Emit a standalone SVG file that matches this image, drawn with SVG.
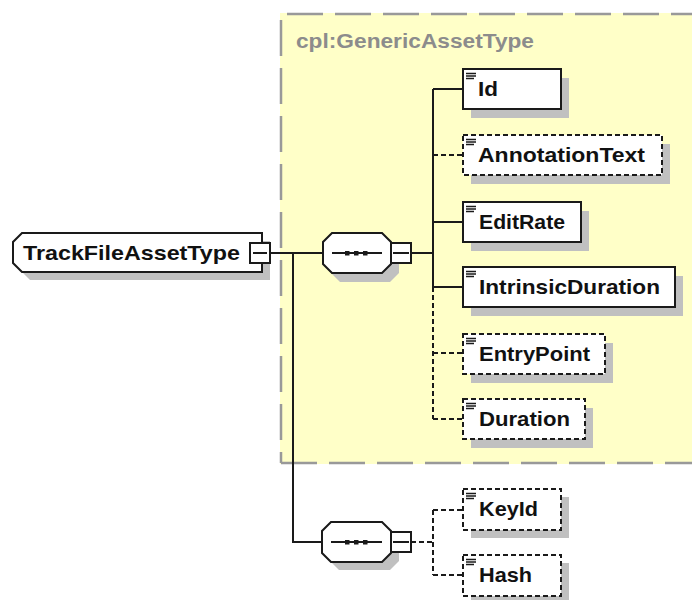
<svg xmlns="http://www.w3.org/2000/svg" width="692" height="600" viewBox="0 0 692 600">
<defs>
<style>
.t{font-family:"Liberation Sans",Arial,sans-serif;font-weight:bold;font-size:21px;fill:#111}
.title{font-family:"Liberation Sans",Arial,sans-serif;font-weight:bold;font-size:20px;fill:#8c8c8c}
.box{fill:#fff;stroke:#1a1a1a;stroke-width:2}
.opt{fill:#fff;stroke:#1a1a1a;stroke-width:2;stroke-dasharray:5 3}
.sh{fill:#c0c0c0}
.ln{stroke:#1a1a1a;stroke-width:2;fill:none}
.dl{stroke:#1a1a1a;stroke-width:2;fill:none;stroke-dasharray:5 3}
.ic{stroke:#1a1a1a;stroke-width:1.3}
.gb{stroke:#999;stroke-width:2.5;stroke-dasharray:36 12;fill:none}
</style>
</defs>
<rect width="692" height="600" fill="#fff"/>
<g id="group-GenericAssetType">
<rect x="280" y="13" width="420" height="451" fill="#ffffc8"/>
<line class="gb" x1="287" y1="14" x2="692" y2="14"/>
<line class="gb" x1="281" y1="20" x2="281" y2="463"/>
<line class="gb" x1="281" y1="463" x2="692" y2="463"/>
<text class="title" x="296" y="48" textLength="238" lengthAdjust="spacingAndGlyphs">cpl:GenericAssetType</text>
</g>
<g id="connectors">
<line class="ln" x1="270" y1="253" x2="323" y2="253"/>
<polyline class="ln" points="293,253 293,542 322,542"/>
<line class="ln" x1="411" y1="253" x2="433" y2="253"/>
<line class="ln" x1="433" y1="89" x2="433" y2="287"/>
<line class="dl" x1="433" y1="287" x2="433" y2="419"/>
<line class="ln" x1="433" y1="89" x2="463" y2="89"/>
<line class="dl" x1="433" y1="155" x2="463" y2="155"/>
<line class="ln" x1="433" y1="222" x2="463" y2="222"/>
<line class="ln" x1="433" y1="287" x2="463" y2="287"/>
<line class="dl" x1="433" y1="353" x2="463" y2="353"/>
<line class="dl" x1="433" y1="419" x2="463" y2="419"/>
<line class="dl" x1="411" y1="542" x2="433" y2="542"/>
<line class="dl" x1="433" y1="510" x2="433" y2="575"/>
<line class="dl" x1="433" y1="510" x2="463" y2="510"/>
<line class="dl" x1="433" y1="575" x2="463" y2="575"/>
</g>
<g id="TrackFileAssetType">
<path class="sh" d="M30 241 H270 V280 H30 L21 271 V250 Z"/>
<path class="box" d="M22 233 H262 V272 H22 L13 263 V242 Z"/>
<text class="t" x="23" y="260" textLength="217" lengthAdjust="spacingAndGlyphs">TrackFileAssetType</text>
<rect x="250" y="243" width="20" height="20" fill="#fff" stroke="#1a1a1a" stroke-width="2"/>
<line class="ln" x1="253" y1="253" x2="267" y2="253"/>
</g>
<g id="sequence1">
<path class="sh" d="M340 241 H390 L399 250 V273 L390 282 H340 L331 273 V250 Z"/>
<path class="box" d="M332 233 H382 L391 242 V264 L382 273 H332 L323 264 V242 Z"/>
<line class="ln" x1="332" y1="253" x2="382" y2="253"/>
<rect x="345" y="251" width="4.5" height="4.5" fill="#1a1a1a"/>
<rect x="354" y="251" width="4.5" height="4.5" fill="#1a1a1a"/>
<rect x="363" y="251" width="4.5" height="4.5" fill="#1a1a1a"/>
<rect x="391" y="243" width="20" height="20" fill="#fff" stroke="#1a1a1a" stroke-width="2"/>
<line class="ln" x1="393" y1="253" x2="409" y2="253"/>
</g>
<g id="sequence2">
<path class="sh" d="M339 530 H390 L399 539 V561 L390 570 H339 L330 561 V539 Z"/>
<path class="box" d="M331 522 H382 L391 531 V553 L382 562 H331 L322 553 V531 Z"/>
<line class="ln" x1="331" y1="542" x2="382" y2="542"/>
<rect x="345" y="540" width="4.5" height="4.5" fill="#1a1a1a"/>
<rect x="354" y="540" width="4.5" height="4.5" fill="#1a1a1a"/>
<rect x="363" y="540" width="4.5" height="4.5" fill="#1a1a1a"/>
<rect x="391" y="532" width="20" height="20" fill="#fff" stroke="#1a1a1a" stroke-width="2"/>
<line class="ln" x1="393" y1="542" x2="409" y2="542"/>
</g>
<g id="Id">
<rect class="sh" x="471" y="78" width="98" height="40"/>
<rect class="box" x="463" y="69" width="98" height="40"/>
<path class="ic" d="M466 73.5h10M466 76h10M466 78.5h8"/>
<text class="t" x="478" y="96" textLength="20" lengthAdjust="spacingAndGlyphs">Id</text>
</g>
<g id="AnnotationText">
<rect class="sh" x="471" y="144" width="199" height="40"/>
<rect class="opt" x="463" y="135" width="199" height="40"/>
<path class="ic" d="M466 139.5h10M466 142h10M466 144.5h8"/>
<text class="t" x="478" y="162" textLength="167" lengthAdjust="spacingAndGlyphs">AnnotationText</text>
</g>
<g id="EditRate">
<rect class="sh" x="471" y="211" width="118" height="40"/>
<rect class="box" x="463" y="202" width="118" height="40"/>
<path class="ic" d="M466 206.5h10M466 209h10M466 211.5h8"/>
<text class="t" x="479" y="229" textLength="86" lengthAdjust="spacingAndGlyphs">EditRate</text>
</g>
<g id="IntrinsicDuration">
<rect class="sh" x="471" y="276" width="212" height="40"/>
<rect class="box" x="463" y="267" width="212" height="40"/>
<path class="ic" d="M466 271.5h10M466 274h10M466 276.5h8"/>
<text class="t" x="479" y="294" textLength="181" lengthAdjust="spacingAndGlyphs">IntrinsicDuration</text>
</g>
<g id="EntryPoint">
<rect class="sh" x="471" y="343" width="142" height="40"/>
<rect class="opt" x="463" y="334" width="142" height="40"/>
<path class="ic" d="M466 338.5h10M466 341h10M466 343.5h8"/>
<text class="t" x="479" y="361" textLength="111" lengthAdjust="spacingAndGlyphs">EntryPoint</text>
</g>
<g id="Duration">
<rect class="sh" x="471" y="408" width="122" height="40"/>
<rect class="opt" x="463" y="399" width="122" height="40"/>
<path class="ic" d="M466 403.5h10M466 406h10M466 408.5h8"/>
<text class="t" x="479" y="426" textLength="91" lengthAdjust="spacingAndGlyphs">Duration</text>
</g>
<g id="KeyId">
<rect class="sh" x="471" y="497" width="98" height="41"/>
<rect class="opt" x="463" y="489" width="98" height="41"/>
<path class="ic" d="M466 493.5h10M466 496h10M466 498.5h8"/>
<text class="t" x="479" y="516" textLength="59" lengthAdjust="spacingAndGlyphs">KeyId</text>
</g>
<g id="Hash">
<rect class="sh" x="471" y="563" width="98" height="41"/>
<rect class="opt" x="463" y="555" width="98" height="41"/>
<path class="ic" d="M466 559.5h10M466 562h10M466 564.5h8"/>
<text class="t" x="479" y="582" textLength="53" lengthAdjust="spacingAndGlyphs">Hash</text>
</g>
</svg>
